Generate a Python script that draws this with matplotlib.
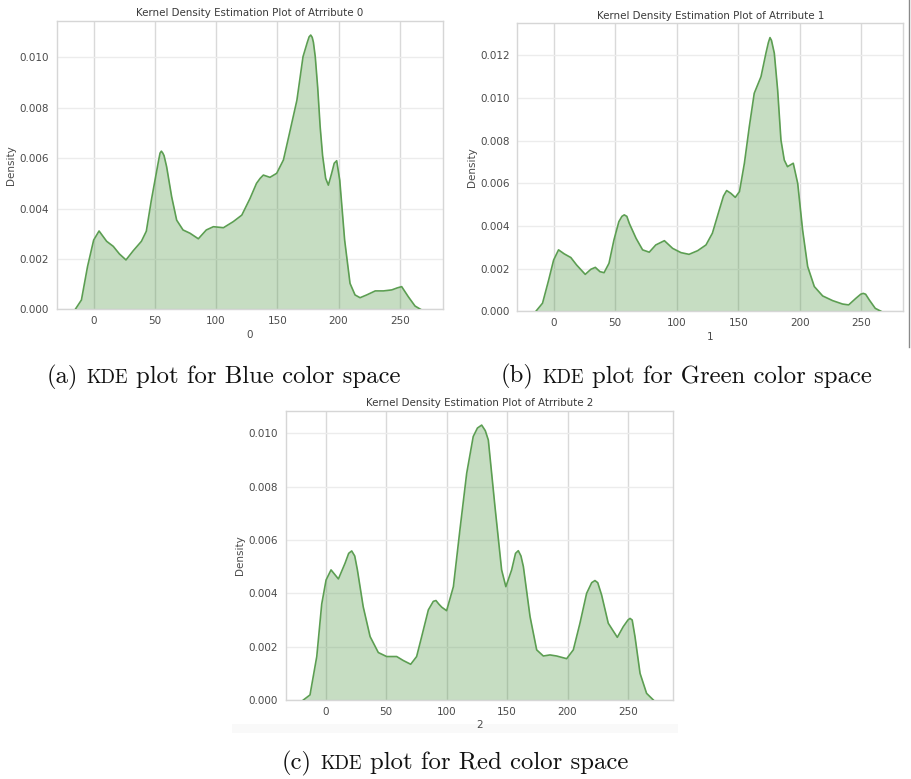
import matplotlib
matplotlib.use("Agg")
import matplotlib.pyplot as plt
from matplotlib.patches import Rectangle
from matplotlib.lines import Line2D

# ---------------- data ----------------
attr0_x = [-15, -10, -5, 0, 4.4, 10.6, 16, 21, 26.4, 32.4,
           39, 43, 47, 50, 53, 54.2, 55.3, 56.5, 57.5, 59.6, 63.7, 67.8,
           73, 78.7, 85.5, 92, 97.8, 106, 114, 121, 127.7, 133,
           136, 138.6, 144, 149.5, 155, 160, 166, 171, 174.5, 176, 177.3, 178.5, 179.5,
           181, 183, 185, 187, 189.5, 191.7, 194.4, 196.5, 198.5, 201, 205, 209.4, 213.5,
           217.6, 223, 230, 236.7, 243.5, 248, 251.6, 257, 262.5, 267]
attr0_density = [0, 0.00037, 0.0017, 0.00275, 0.00311, 0.0027, 0.0025, 0.0022, 0.00196, 0.00233,
                 0.0027, 0.0031, 0.0043, 0.0051, 0.0059, 0.0062, 0.00628, 0.0062, 0.0061, 0.00566, 0.00447, 0.00354,
                 0.00315, 0.00302, 0.0028, 0.00315, 0.00328, 0.00324, 0.00348, 0.00374, 0.0044, 0.005,
                 0.0052, 0.00533, 0.00524, 0.0054, 0.00593, 0.0070, 0.0083, 0.01003, 0.0106, 0.01082, 0.01089, 0.0108, 0.0106,
                 0.01003, 0.0088, 0.00725, 0.0061, 0.0052, 0.00493, 0.0054, 0.0058, 0.0059, 0.00513, 0.00275, 0.00103, 0.00057,
                 0.00046, 0.00057, 0.00073, 0.00073, 0.00077, 0.00085, 0.0009, 0.0005, 0.00013, 0]

attr1_x = [-14.4, -9, -4, 0, 4, 8.7, 14, 18.7, 25.7, 30.3,
           33.9, 37.6, 41, 45, 49, 53, 55.5, 57.4, 59.5, 61.5, 67, 72.3,
           77.7, 83, 90, 96.7, 103.5, 110, 117, 123.8, 129, 134.6,
           138, 140.6, 144, 147.6, 151, 155, 159, 163, 168.5, 172.5, 174.5, 175.8,
           177, 179.3, 182, 184.7, 187.4, 190, 194.7, 198.3, 202.3, 206.4, 211.8, 218.6,
           226.7, 234.8, 239.7, 245.6, 249.5, 251.6, 253.5, 256.5, 261.3, 266]
attr1_density = [0, 0.00038, 0.00147, 0.0024, 0.00288, 0.00269, 0.00252, 0.00217, 0.00173, 0.00197,
                 0.00206, 0.00186, 0.00181, 0.00225, 0.00334, 0.0042, 0.00445, 0.00452, 0.00445, 0.00412, 0.00342, 0.00288,
                 0.00277, 0.00311, 0.00331, 0.00295, 0.00275, 0.00267, 0.00284, 0.00311, 0.00366, 0.00475,
                 0.0054, 0.00566, 0.00553, 0.00534, 0.00561, 0.00694, 0.00866, 0.01022, 0.0110, 0.0121, 0.0126, 0.01283,
                 0.0127, 0.0121, 0.01038, 0.00803, 0.00709, 0.00678, 0.00694, 0.006, 0.00381, 0.0021, 0.00116, 0.00072,
                 0.0005, 0.00034, 0.0003, 0.00061, 0.0008, 0.00084, 0.0008, 0.00053, 0.00014, 0]

attr2_x = [-18.5, -13, -7.4, -3.3, 0.3, 4.4, 10.5, 16, 19, 21.5, 24, 26.2,
           31, 36.7, 43.5, 50.4, 58.7, 64.2, 70.3, 75.2, 79.4, 84.9,
           89, 91.2, 93.5, 96, 100, 105.6, 111, 116.6, 122, 125.5, 129, 132, 134.5,
           140, 145.5, 149, 153.8, 157, 159.3, 161.5, 163.5, 169, 174.5, 180, 185.5,
           191, 199.3, 204.8, 210.3, 215.8, 220, 222.7, 225, 228.2, 233.7, 241.2, 246.1,
           250, 251.7, 253.5, 255.8, 260, 265.4, 271]
attr2_density = [0, 0.00019, 0.00163, 0.0036, 0.0045, 0.00488, 0.00454, 0.00513, 0.0055, 0.00559, 0.0054, 0.00488,
                 0.0035, 0.00238, 0.00178, 0.00163, 0.00163, 0.00148, 0.00134, 0.00163, 0.00238, 0.00338,
                 0.0037, 0.00373, 0.0036, 0.00348, 0.00335, 0.00425, 0.00638, 0.0085, 0.00988, 0.0102, 0.01031, 0.0101, 0.00975,
                 0.00725, 0.00488, 0.00425, 0.00488, 0.0055, 0.0056, 0.0054, 0.005, 0.00313, 0.00188, 0.00165, 0.00169,
                 0.00165, 0.00155, 0.00188, 0.00288, 0.004, 0.0044, 0.00448, 0.0044, 0.00394, 0.00288, 0.00235, 0.00275,
                 0.003, 0.00306, 0.003, 0.00238, 0.001, 0.00025, 0]

x_ticks = [0, 50, 100, 150, 200, 250]
attributes = ["0", "1", "2"]
caption_letters = ["(a)", "(b)", "(c)"]
caption_colors = ["Blue", "Green", "Red"]

# ---------------- figure ----------------
W, H = 912, 779
fig = plt.figure(figsize=(W / 100, H / 100), dpi=100)
fig.patch.set_facecolor("white")

LINE = "#5c9e52"
TXT = "#4a4a4a"
FS = 7.5


def px_axes(left, top, right, bottom):
    return [left / W, 1 - bottom / H, (right - left) / W, (bottom - top) / H]


panels = [
    dict(rect=px_axes(56.7, 20.7, 442.7, 309.3), x=attr0_x, y=attr0_density,
         xlim=(-30.2, 285.1), ylim=(0, 0.01146), yticks=[0, 0.002, 0.004, 0.006, 0.008, 0.010]),
    dict(rect=px_axes(517.3, 23.3, 903.3, 311.3), x=attr1_x, y=attr1_density,
         xlim=(-29.5, 284.1), ylim=(0, 0.0135), yticks=[0, 0.002, 0.004, 0.006, 0.008, 0.010, 0.012]),
    dict(rect=px_axes(285.7, 410.7, 673.3, 700.0), x=attr2_x, y=attr2_density,
         xlim=(-33.1, 287.5), ylim=(0, 0.01085), yticks=[0, 0.002, 0.004, 0.006, 0.008, 0.010]),
]

# faint screenshot band under panel (c)
fig.add_artist(Rectangle((232 / W, 1 - 733 / H), (678 - 232) / W, 9 / H,
                         transform=fig.transFigure, facecolor="#f9f9f9",
                         edgecolor="none", zorder=-5))
# thin border line at right of panel (b) screenshot
fig.add_artist(Line2D([909 / W, 909 / W], [1.0, 1 - 347 / H], transform=fig.transFigure,
                      color="#8a8a8a", linewidth=1.0))

for i, p in enumerate(panels):
    ax = fig.add_axes(p["rect"])
    ax.set_facecolor("white")
    ax.set_axisbelow(True)
    ax.grid(axis="x", color="#d9d9d9", linewidth=1.0)
    ax.grid(axis="y", color="#ececec", linewidth=1.0)
    ax.plot(p["x"], p["y"], color=LINE, linewidth=1.2, zorder=3, solid_joinstyle="round")
    ax.fill_between(p["x"], p["y"], 0, color=LINE, alpha=0.35, linewidth=0, zorder=2)
    ax.set_xlim(*p["xlim"])
    ax.set_ylim(*p["ylim"])
    ax.set_xticks(x_ticks)
    ax.set_yticks(p["yticks"])
    ax.set_yticklabels([f"{v:.3f}" for v in p["yticks"]])
    ax.tick_params(axis="both", length=0, labelsize=FS, labelcolor=TXT)
    ax.tick_params(axis="x", pad=5)
    ax.tick_params(axis="y", pad=5.5)
    for s in ax.spines.values():
        s.set_color("#d6d6d6")
        s.set_linewidth(1.0)
    ax.set_title(f"Kernel Density Estimation Plot of Atrribute {attributes[i]}",
                 fontsize=7.4, color="#3a3a3a", pad=3.3)
    ax.set_xlabel(attributes[i], fontsize=FS, color=TXT, labelpad=2.5)
    ax.set_ylabel("Density", fontsize=FS, color=TXT, labelpad=2.5)

# ---------------- captions (Computer Modern with small caps "KDE") ----------------
fig.canvas.draw()
renderer = fig.canvas.get_renderer()

CAP = 17.8
centers = [(224, 383.3), (686.5, 382.7), (455, 769.0)]


def caption(cx, base_px, letter, color_word):
    pieces = [(letter, CAP), ("KDE", CAP * 0.76), (f"plot for {color_word} color space", CAP)]
    gap = CAP * 100 / 72 * 0.333
    texts = []
    for txt, size in pieces:
        t = fig.text(0, 1 - base_px / H, txt, fontsize=size, family="cmr10",
                     va="baseline", ha="left", color="#111111")
        texts.append(t)
    widths = [t.get_window_extent(renderer).width for t in texts]
    total = sum(widths) + gap * (len(widths) - 1)
    x = cx - total / 2
    for t, w in zip(texts, widths):
        t.set_x(x / W)
        x += w + gap


for (cx, by), let, col in zip(centers, caption_letters, caption_colors):
    caption(cx, by, let, col)

fig.savefig("out.png", dpi=100)
